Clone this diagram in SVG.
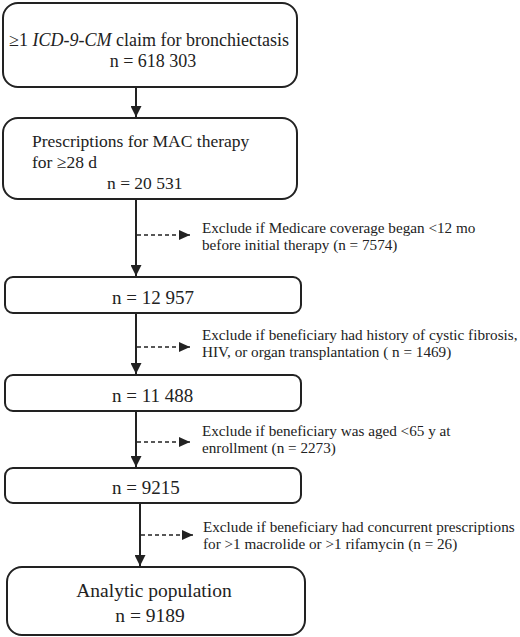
<svg xmlns="http://www.w3.org/2000/svg" width="520" height="637" viewBox="0 0 520 637">
<style>
.box{fill:#fff;stroke:#222;stroke-width:2}
.t{font-family:"Liberation Serif","Times New Roman",serif;fill:#222}
.big{font-size:18px}
.p2{font-size:17.5px}
.nn{font-size:19px}
.big2{font-size:19.5px}
.sm{font-size:15.2px}
.ln{stroke:#222;stroke-width:2;fill:none}
.dash{stroke:#222;stroke-width:1.5;stroke-dasharray:4 3;fill:none}
</style>
<defs>
<marker id="ah" markerWidth="11" markerHeight="11" refX="11" refY="5.5" orient="auto" markerUnits="userSpaceOnUse">
<path d="M0,0 L11,5.5 L0,11 Z" fill="#222"/>
</marker>
<marker id="ah2" markerWidth="11" markerHeight="10" refX="11" refY="5" orient="auto" markerUnits="userSpaceOnUse">
<path d="M0,0 L11,5 L0,10 Z" fill="#222"/>
</marker>
</defs>
<rect width="520" height="637" fill="#fff"/>
<g id="connectors">
<line class="ln" x1="136" y1="87" x2="136" y2="117" marker-end="url(#ah)"/>
<line class="ln" x1="136" y1="199" x2="136" y2="276" marker-end="url(#ah)"/>
<line class="dash" x1="137" y1="235" x2="190" y2="235" marker-end="url(#ah2)"/>
<line class="ln" x1="136" y1="313" x2="136" y2="374" marker-end="url(#ah)"/>
<line class="dash" x1="137" y1="347" x2="190" y2="347" marker-end="url(#ah2)"/>
<line class="ln" x1="136" y1="411" x2="136" y2="467" marker-end="url(#ah)"/>
<line class="dash" x1="137" y1="442" x2="190" y2="442" marker-end="url(#ah2)"/>
<line class="ln" x1="140" y1="503" x2="140" y2="566" marker-end="url(#ah)"/>
<line class="dash" x1="141" y1="535" x2="193" y2="535" marker-end="url(#ah2)"/>
</g>
<g id="node1">
<rect class="box" x="3" y="3" width="294" height="84" rx="15"/>
<text class="t big" x="149" y="46" text-anchor="middle">≥1 <tspan font-style="italic">ICD-9-CM</tspan> claim for bronchiectasis</text>
<text class="t big" x="153" y="67" text-anchor="middle">n = 618 303</text>
</g>
<g id="node2">
<rect class="box" x="3" y="118" width="294" height="81" rx="15"/>
<text class="t p2" x="32" y="147">Prescriptions for MAC therapy</text>
<text class="t p2" x="32" y="168">for ≥28 d</text>
<text class="t p2" x="107" y="189">n = 20 531</text>
</g>
<g id="exc1">
<text class="t sm" x="202" y="233">Exclude if Medicare coverage began &lt;12 mo</text>
<text class="t sm" x="202" y="250">before initial therapy (n = 7574)</text>
</g>
<g id="node3">
<rect class="box" x="5" y="277" width="296" height="36" rx="8"/>
<text class="t nn" x="112" y="304">n = 12 957</text>
</g>
<g id="exc2">
<text class="t sm" x="202" y="340">Exclude if beneficiary had history of cystic fibrosis,</text>
<text class="t sm" x="202" y="357">HIV, or organ transplantation ( n = 1469)</text>
</g>
<g id="node4">
<rect class="box" x="5" y="375" width="296" height="36" rx="8"/>
<text class="t nn" x="112" y="402">n = 11 488</text>
</g>
<g id="exc3">
<text class="t sm" x="202" y="436">Exclude if beneficiary was aged &lt;65 y at</text>
<text class="t sm" x="202" y="453">enrollment (n = 2273)</text>
</g>
<g id="node5">
<rect class="box" x="5" y="468" width="296" height="35" rx="8"/>
<text class="t nn" x="112" y="494">n = 9215</text>
</g>
<g id="exc4">
<text class="t sm" x="203" y="532">Exclude if beneficiary had concurrent prescriptions</text>
<text class="t sm" x="203" y="549">for &gt;1 macrolide or &gt;1 rifamycin (n = 26)</text>
</g>
<g id="node6">
<rect class="box" x="7" y="567" width="298" height="68" rx="15"/>
<text class="t big2" x="154" y="597" text-anchor="middle">Analytic population</text>
<text class="t big2" x="150" y="622" text-anchor="middle">n = 9189</text>
</g>
</svg>
